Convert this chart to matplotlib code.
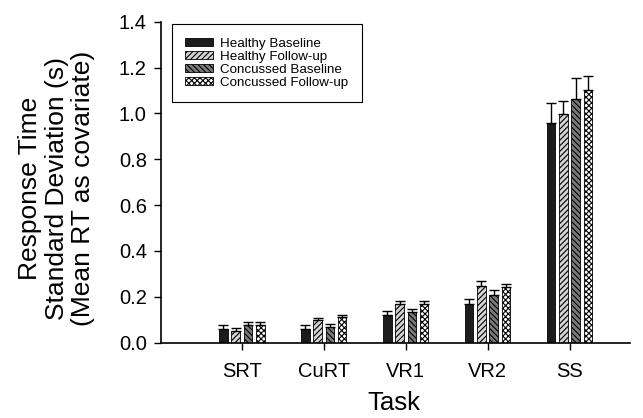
import numpy as np
import matplotlib.pyplot as plt

plt.rcParams['font.family'] = ['Liberation Sans', 'DejaVu Sans']
plt.rcParams['hatch.linewidth'] = 0.8

tasks = ['SRT', 'CuRT', 'VR1', 'VR2', 'SS']
groups = ['Healthy Baseline', 'Healthy Follow-up', 'Concussed Baseline', 'Concussed Follow-up']

healthy_base = [0.061, 0.060, 0.122, 0.170, 0.957]
healthy_follow = [0.052, 0.097, 0.167, 0.247, 0.999]
concussed_base = [0.078, 0.068, 0.135, 0.209, 1.062]
concussed_follow = [0.078, 0.110, 0.170, 0.242, 1.101]

healthy_base_err = [0.014, 0.015, 0.016, 0.020, 0.090]
healthy_follow_err = [0.013, 0.012, 0.012, 0.020, 0.057]
concussed_base_err = [0.011, 0.012, 0.013, 0.018, 0.092]
concussed_follow_err = [0.010, 0.010, 0.010, 0.014, 0.061]

means = [healthy_base, healthy_follow, concussed_base, concussed_follow]
errs = [healthy_base_err, healthy_follow_err, concussed_base_err, concussed_follow_err]
faces = ['#1c1c1c', '#d4d4d4', '#7a7a7a', 'white']
hatches = [None, '//////', '\\\\\\\\\\\\', 'xxxxxx']

fig = plt.figure(figsize=(6.43, 4.18), dpi=100)
ax = fig.add_axes([0.250, 0.1806, 0.730, 0.7675])

x = np.arange(len(tasks))
slot = 0.15
width = 0.105
for i in range(4):
    pos = x + (i - 1.5) * slot
    ax.bar(pos, means[i], width, color=faces[i], edgecolor='black', linewidth=0.6,
           hatch=hatches[i], label=groups[i])
    ax.errorbar(pos, means[i], yerr=[np.zeros(len(tasks)), errs[i]], fmt='none',
                ecolor='black', elinewidth=1.0, capsize=3.6, capthick=1.0)

ax.set_xlim(-0.99, 4.74)
ax.set_ylim(0, 1.4)
ax.set_yticks(np.arange(0, 1.41, 0.2))
ax.set_yticklabels(['%.1f' % v for v in np.arange(0, 1.41, 0.2)])
ax.set_xticks(x)
ax.set_xticklabels(tasks)
ax.tick_params(labelsize=14.5, length=5, width=1, direction='out')
ax.tick_params(axis='x', pad=9)
ax.tick_params(axis='y', pad=5)
for s in ['top', 'right']:
    ax.spines[s].set_visible(False)
for s in ['left', 'bottom']:
    ax.spines[s].set_linewidth(1.2)

fig.text(0.613, 0.02, 'Task', ha='center', va='baseline', fontsize=18.5)
fig.text(0.088, 0.55, 'Response Time\nStandard Deviation (s)\n(Mean RT as covariate)',
         rotation=90, ha='center', va='center', fontsize=19, linespacing=1.15)

leg = ax.legend(loc='upper left', bbox_to_anchor=(0.023, 0.992), borderaxespad=0,
                fontsize=9.6, fancybox=False, framealpha=1, edgecolor='black',
                handlelength=2.1, handleheight=0.55, labelspacing=0.08,
                borderpad=1.0, handletextpad=0.55)
leg.get_frame().set_linewidth(0.8)

fig.savefig('out.png', dpi=100)
